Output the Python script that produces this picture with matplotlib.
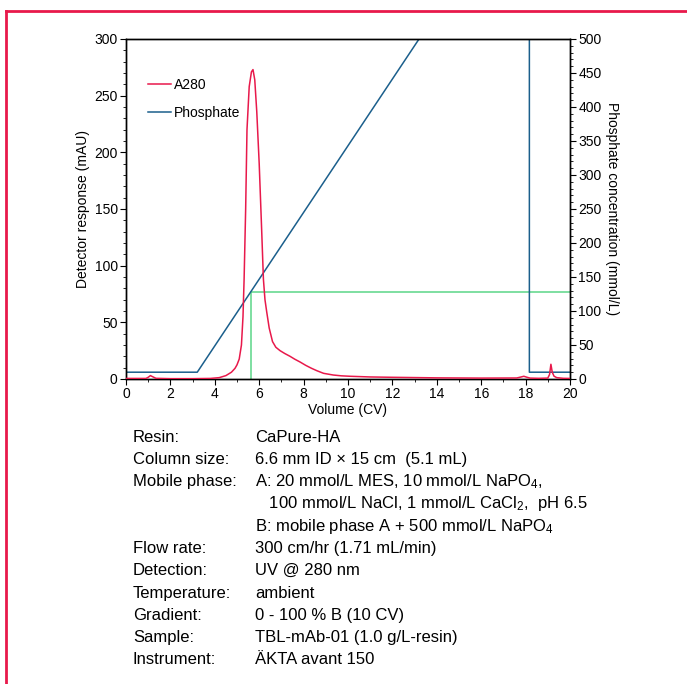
import matplotlib.pyplot as plt
from matplotlib.lines import Line2D
from matplotlib.ticker import MultipleLocator

plt.rcParams['font.family'] = ['Liberation Sans', 'DejaVu Sans']
plt.rcParams['mathtext.fontset'] = 'custom'
plt.rcParams['mathtext.rm'] = 'Liberation Sans'
plt.rcParams['mathtext.it'] = 'Liberation Sans'

# A280 trace (volume in CV, mAU)
a280_x = [0, 0.9, 1.0, 1.1, 1.2, 1.35, 2.0, 3.0, 3.8, 4.2, 4.5, 4.75, 4.91, 5.0, 5.1,
          5.2, 5.27, 5.32, 5.39, 5.45, 5.55, 5.65, 5.72, 5.8, 5.89, 6.0, 6.11, 6.19,
          6.26, 6.34, 6.45, 6.6, 6.75, 6.94, 7.15, 7.39, 7.6, 7.84, 8.1, 8.35, 8.6,
          8.9, 9.34, 9.7, 10.1, 11, 12, 14, 16, 17.6, 17.8, 17.92, 18.05, 18.2, 18.6,
          19.0, 19.08, 19.14, 19.2, 19.28, 19.4, 19.7, 20]
a280_y = [0.5, 0.5, 1.5, 3.0, 2.0, 0.6, 0.3, 0.3, 0.5, 1.2, 3.0, 6.0, 9.4, 12.5, 17.6,
          30, 55, 88, 150, 220, 258, 271, 273, 264, 236, 190, 132, 88,
          70, 59, 45, 33, 28, 25, 22.5, 20, 17.5, 15, 12, 9.5, 7.3,
          5.0, 3.5, 2.8, 2.4, 1.8, 1.5, 1.0, 0.8, 0.9, 1.8, 2.4, 1.6, 0.8, 0.6,
          0.8, 4.0, 13, 6.0, 2.5, 1.2, 0.6, 0.5]

# phosphate concentration (mmol/L)
phos_x = [0, 3.21, 13.2, 18.17, 18.17, 20]
phos_y = [10, 10, 500, 500, 10, 10]

# concentration at the A280 peak
peak_x = [5.63, 5.63, 20]
peak_y = [0, 128.5, 128.5]

cond_labels = ['Resin:', 'Column size:', 'Mobile phase:', '', '', 'Flow rate:', 'Detection:',
               'Temperature:', 'Gradient:', 'Sample:', 'Instrument:']
cond_values = ['CaPure-HA',
               '6.6 mm ID \u00d7 15 cm  (5.1 mL)',
               'A: 20 mmol/L MES, 10 mmol/L NaPO$_{4}$,',
               '   100 mmol/L NaCl, 1 mmol/L CaCl$_{2}$,  pH 6.5',
               'B: mobile phase A + 500 mmol/L NaPO$_{4}$',
               '300 cm/hr (1.71 mL/min)',
               'UV @ 280 nm',
               'ambient',
               '0 - 100 % B (10 CV)',
               'TBL-mAb-01 (1.0 g/L-resin)',
               '\u00c4KTA avant 150']

red = '#e8194b'
blue = '#1b5f8c'
green = '#5bd688'

fig = plt.figure(figsize=(6.87, 6.84), dpi=100)
ax = fig.add_axes([126 / 687, 1 - 379 / 684, 444 / 687, 340 / 684])
ax2 = ax.twinx()

ax.plot(a280_x, a280_y, color=red, lw=1.1, zorder=3)
ax2.plot(phos_x, phos_y, color=blue, lw=1.1, zorder=2)
ax2.plot(peak_x, peak_y, color=green, lw=1.1, zorder=1)
ax.set_zorder(ax2.get_zorder() + 1)
ax.patch.set_visible(False)

ax.set_xlim(0, 20)
ax.set_ylim(0, 300)
ax2.set_ylim(0, 500)
ax.xaxis.set_major_locator(MultipleLocator(2))
ax.xaxis.set_minor_locator(MultipleLocator(1))
ax.yaxis.set_major_locator(MultipleLocator(50))
ax.yaxis.set_minor_locator(MultipleLocator(10))
ax2.yaxis.set_major_locator(MultipleLocator(50))
ax2.yaxis.set_minor_locator(MultipleLocator(10))

for a in (ax, ax2):
    a.tick_params(which='major', length=4, width=0.8, labelsize=10, pad=2)
    a.tick_params(which='minor', length=2, width=0.6)
    for s in a.spines.values():
        s.set_linewidth(1.0)

ax.set_xlabel('Volume (CV)', fontsize=10, labelpad=1)
ax.set_ylabel('Detector response (mAU)', fontsize=10)
ax.yaxis.set_label_coords(-0.081, 0.5)
ax2.set_ylabel('Phosphate concentration (mmol/L)', fontsize=10, rotation=-90,
               va='center')
ax2.yaxis.set_label_coords(1.095, 0.5)

handles = [Line2D([], [], color=red, lw=1.1), Line2D([], [], color=blue, lw=1.1)]
ax.legend(handles, ['A280', 'Phosphate'], loc='upper left', bbox_to_anchor=(0.035, 0.905),
          frameon=False, fontsize=10, handlelength=1.6, handletextpad=0.2,
          labelspacing=1.0, borderpad=0)

# run conditions below the chart
y0 = 437
for i, (lab, val) in enumerate(zip(cond_labels, cond_values)):
    y = 1 - (y0 + i * 22.3) / 684
    fig.text(133 / 687, y, lab, fontsize=12, va='center', ha='left')
    fig.text(255 / 687, y, val, fontsize=12, va='center', ha='left')

# red frame
fig.add_artist(Line2D([6 / 687, 6 / 687], [0, 1 - 11 / 684], color=red, lw=2,
                      transform=fig.transFigure))
fig.add_artist(Line2D([6 / 687, 1], [1 - 11 / 684, 1 - 11 / 684], color=red, lw=2,
                      transform=fig.transFigure))

fig.savefig('out.png', dpi=100)
